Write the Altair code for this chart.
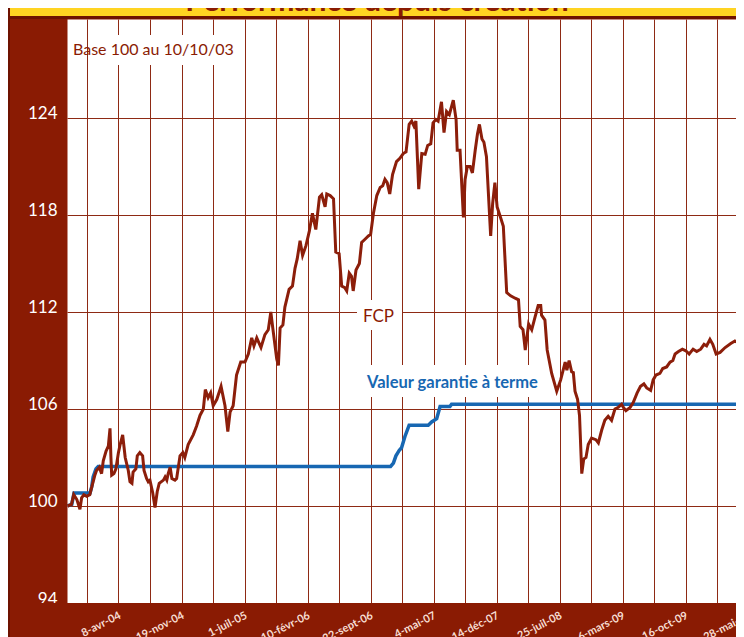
import altair as alt
import pandas as pd

# ---------------- data ----------------
BASE_DATE = "2003-10-10"  # Base 100 au 10/10/03

# FCP: days since base date, and value (base 100)
fcp_jours = [0, 14, 22, 33, 44, 50, 58, 68, 79, 97, 103, 113, 121, 127, 137, 145, 151, 154, 157, 165,
             172, 181, 187, 196, 205, 216, 222, 229, 233, 243, 248, 257, 267, 272, 281, 287, 293, 303, 311, 319,
             326, 341, 347, 353, 358, 365, 371, 382, 388, 400, 410, 417, 429, 447, 459, 471, 483, 490, 500, 509,
             518, 531, 546, 560, 570, 578, 589, 601, 616, 631, 643, 655, 663, 673, 688, 702, 714, 723, 730, 744,
             750, 756, 766, 773, 788, 800, 809, 817, 827, 836, 848, 860, 871, 883, 896, 904, 916, 922, 934, 946,
             954, 966, 975, 986, 993, 1002, 1010, 1016, 1026, 1038, 1046, 1058, 1070, 1078, 1088, 1100, 1112, 1121, 1129, 1137,
             1146, 1156, 1170, 1182, 1194, 1204, 1215, 1224, 1232, 1239, 1249, 1260, 1272, 1281, 1292, 1300, 1310, 1318, 1330, 1339,
             1348, 1358, 1372, 1382, 1386, 1396, 1408, 1414, 1422, 1432, 1440, 1450, 1458, 1465, 1474, 1481, 1490, 1505, 1512, 1520,
             1528, 1541, 1550, 1562, 1576, 1592, 1604, 1610, 1620, 1628, 1640, 1651, 1663, 1674, 1683, 1686, 1698, 1706, 1722, 1740,
             1754, 1770, 1776, 1784, 1793, 1799, 1805, 1814, 1821, 1829, 1836, 1844, 1852, 1864, 1879, 1888, 1900, 1911, 1923, 1935,
             1947, 1959, 1971, 1977, 1986, 2001, 2012, 2026, 2038, 2050, 2060, 2074, 2083, 2093, 2107, 2117, 2131, 2143, 2153, 2161,
             2173, 2187, 2199, 2211, 2225, 2238, 2252, 2264, 2273, 2285, 2295, 2307, 2321, 2339, 2359, 2374, 2385, 2398, 2406]
fcp_valeurs = [100.0, 100.1, 100.7, 100.4, 99.8, 100.5, 100.7, 100.6, 100.7, 101.9, 102.2, 102.4, 102.0, 102.8, 103.4, 103.7, 104.8, 103.1, 101.9, 102.0,
               102.3, 103.3, 103.8, 104.4, 103.0, 102.2, 101.5, 101.4, 102.1, 102.3, 103.1, 103.3, 103.1, 102.2, 101.7, 101.5, 101.6, 100.8, 99.9, 100.9,
               101.4, 101.6, 101.8, 101.6, 102.0, 102.4, 101.7, 101.6, 101.7, 103.1, 103.3, 103.0, 103.8, 104.4, 104.95, 105.6, 106.0, 107.2, 106.7, 107.0,
               106.2, 106.6, 107.4, 106.2, 104.6, 105.8, 106.2, 108.1, 108.9, 108.9, 109.4, 110.4, 109.9, 110.4, 109.8, 110.6, 110.9, 112.0, 111.0, 109.1,
               108.7, 111.0, 111.2, 112.3, 113.4, 113.6, 114.7, 115.3, 116.4, 115.5, 116.1, 117.0, 118.1, 117.1, 119.1, 119.25, 118.5, 119.3, 119.2, 119.0,
               115.7, 115.6, 113.6, 113.5, 113.3, 114.4, 114.2, 113.3, 114.6, 115.0, 116.3, 116.5, 116.7, 116.8, 118.1, 119.2, 119.7, 119.8, 120.2, 120.0,
               119.3, 120.5, 121.3, 121.5, 121.8, 121.9, 123.6, 123.8, 123.5, 123.8, 119.6, 121.8, 121.75, 122.3, 122.4, 123.7, 123.9, 123.8, 125.0, 123.1,
               124.4, 124.2, 125.1, 123.9, 122.0, 122.0, 117.85, 120.2, 121.0, 121.0, 120.6, 122.0, 123.0, 123.6, 122.7, 122.5, 121.6, 116.7, 118.7, 120.0,
               118.5, 117.8, 117.3, 113.2, 113.0, 112.85, 112.75, 111.1, 110.9, 109.65, 111.25, 110.9, 111.7, 112.4, 112.4, 111.8, 111.5, 109.65, 108.2, 107.1,
               107.8, 108.9, 108.4, 109.0, 108.3, 108.25, 107.1, 106.6, 105.6, 102.0, 102.9, 103.0, 103.8, 104.2, 104.1, 103.9, 104.7, 105.3, 105.55, 105.3,
               106.0, 106.1, 106.3, 106.1, 105.9, 106.1, 106.4, 107.0, 107.4, 107.55, 107.3, 107.15, 107.8, 108.1, 108.2, 108.5, 108.6, 108.9, 109.0, 109.4,
               109.55, 109.7, 109.6, 109.4, 109.7, 109.55, 109.7, 110.0, 109.9, 110.3, 110.0, 109.4, 109.5, 109.8, 110.05, 110.2, 110.1, 109.4, 109.6]

# Valeur garantie à terme
garantie_jours = [0, 15, 23, 80, 86, 91, 101, 109, 1149, 1159, 1168, 1180, 1188, 1200, 1215, 1283, 1295, 1313, 1325, 1360, 1366, 2406]
garantie_valeurs = [100.0, 100.1, 100.8, 100.8, 101.2, 101.8, 102.3, 102.45, 102.45, 102.65, 103.1, 103.45, 103.6, 104.3, 105.0, 105.0,
                    105.2, 105.4, 106.15, 106.15, 106.3, 106.3]

# x-axis tick labels
tick_dates = ["2004-04-08", "2004-11-19", "2005-07-01", "2006-02-10", "2006-09-22", "2007-05-04",
              "2007-12-14", "2008-07-25", "2009-03-06", "2009-10-16", "2010-05-28"]
tick_labels = ["8-avr-04", "19-nov-04", "1-juil-05", "10-févr-06", "22-sept-06", "4-mai-07",
               "14-déc-07", "25-juil-08", "6-mars-09", "16-oct-09", "28-mai-10"]
y_ticks = [94, 100, 106, 112, 118, 124]
x_domain = ["2003-10-08", "2010-06-01"]
y_domain = [94, 130.12]

title_text = "Performance depuis création"
base_text = "Base 100 au 10/10/03"
fcp_text = "FCP"
garantie_text = "Valeur garantie à terme"

# ---------------- styles ----------------
DARK = "#8A1B03"
DARKER = "#6E1200"
LINE_RED = "#8C1E0A"
BLUE = "#1767B2"
YELLOW = "#FFD422"
GRID = "#8E2A14"
LABEL = "#F7DDD2"
FONT = "Lato"

PLOT_W = 669        # view width (svg fits the page width)
RANGE_W = 682.6     # x range runs a little past the view, as in the cropped original
PLOT_H = 584

base = pd.Timestamp(BASE_DATE)
fcp_df = pd.DataFrame({"date": base + pd.to_timedelta(fcp_jours, unit="D"), "valeur": fcp_valeurs})
gar_df = pd.DataFrame({"date": base + pd.to_timedelta(garantie_jours, unit="D"), "valeur": garantie_valeurs})
tick_df = pd.DataFrame({"date": [pd.Timestamp(d) for d in tick_dates], "label": tick_labels})


def dt(s):
    t = pd.Timestamp(s)
    return alt.DateTime(year=t.year, month=t.month, date=t.day)


label_ts = [pd.Timestamp(d) for d in tick_dates]
grid_ts = sorted(label_ts + [t - pd.Timedelta(days=112) for t in label_ts])

x_enc = alt.X(
    "date:T",
    scale=alt.Scale(domain=[dt(d) for d in x_domain], range=[0, RANGE_W]),
    axis=alt.Axis(
        values=[dt(t) for t in grid_ts], labels=False, title=None,
        grid=True, gridColor=GRID, gridWidth=1, ticks=False, domain=False,
    ),
)
y_enc = alt.Y(
    "valeur:Q",
    scale=alt.Scale(domain=y_domain, nice=False, zero=False),
    axis=alt.Axis(
        values=y_ticks, title=None, format="d", grid=True, gridColor=GRID, gridWidth=1,
        ticks=False, domain=False, labelColor="white", labelFont=FONT, labelFontSize=17,
        labelPadding=10, labelOffset=-4,
    ),
)

one = pd.DataFrame({"k": [0]})


def box(x, x2, y, y2, color):
    return alt.Chart(one).mark_rect(color=color).encode(
        x=alt.value(x), x2=alt.value(x2), y=alt.value(y), y2=alt.value(y2))


def label(text, x, y, color, size, weight="normal", align="left"):
    return alt.Chart(one).mark_text(
        text=text, color=color, font=FONT, fontSize=size, fontWeight=weight,
        align=align, baseline="alphabetic").encode(x=alt.value(x), y=alt.value(y))


annotations = [
    box(22, 173, 16, 46, "white"),
    label(base_text, 6, 36, DARK, 16),
    box(290, 335, 281, 311, "white"),
    label(fcp_text, 311.5, 303, DARK, 17, "normal", "center"),
    box(295, 478, 346, 378, "white"),
    label(garantie_text, 300, 369, BLUE, 16.5, "bold"),
]

fcp_line = alt.Chart(fcp_df).mark_line(color=LINE_RED, strokeWidth=3).encode(x=x_enc, y=y_enc)
gar_line = alt.Chart(gar_df).mark_line(color=BLUE, strokeWidth=3.5).encode(x=x_enc, y=y_enc)

frame = [
    box(-59, 700, PLOT_H, 660, DARK),
    box(-59, 700, -19, -3, YELLOW),
    box(-59, 700, -3, 0, DARKER),
    box(-59, -57, -19, 660, DARKER),
    label(title_text, 310, -8, DARK, 30, "bold", "center"),
]

x_labels = alt.Chart(tick_df).mark_text(
    angle=333, align="right", baseline="middle", dx=2, font=FONT, fontSize=11,
    fontWeight="bold", color=LABEL,
).encode(x=x_enc, y=alt.value(PLOT_H + 13), text="label:N")

chart = alt.layer(
    gar_line, *annotations, fcp_line, *frame, x_labels
).properties(
    width=PLOT_W, height=PLOT_H,
    autosize=alt.AutoSizeParams(type="none"),
    padding={"left": 59, "top": 11, "right": 0, "bottom": 34},
).configure(
    background=DARK
).configure_view(
    fill="white", stroke="transparent"
)

chart.save("out.html", embed_options={"renderer": "svg", "actions": False})
